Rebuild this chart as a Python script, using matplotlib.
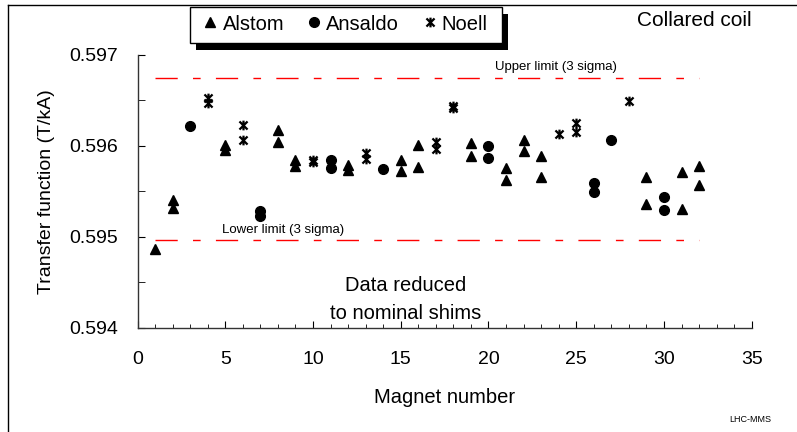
import matplotlib.pyplot as plt
from matplotlib.path import Path
from matplotlib.lines import Line2D
from matplotlib.patches import Rectangle
from matplotlib.ticker import MultipleLocator, FormatStrFormatter

plt.rcParams['font.family'] = ['Liberation Sans', 'DejaVu Sans']

# Alstom (triangles)
alstom_x = [1, 2, 2, 5, 5, 8, 8, 9, 9, 12, 12, 15, 15, 16, 16, 19, 19,
            21, 21, 22, 22, 23, 23, 29, 29, 31, 31, 32, 32]
alstom_y = [0.59487, 0.59540, 0.59532, 0.59601, 0.59595, 0.59617, 0.59604,
            0.59584, 0.59578, 0.59579, 0.59574, 0.59584, 0.59572, 0.59601,
            0.59577, 0.59603, 0.59589, 0.59576, 0.59562, 0.59607, 0.59594,
            0.59589, 0.59566, 0.59566, 0.59536, 0.59571, 0.59531, 0.59578,
            0.59557]

# Ansaldo (circles)
ansaldo_x = [3, 7, 7, 11, 11, 14, 20, 20, 26, 26, 27, 30, 30]
ansaldo_y = [0.59622, 0.59528, 0.59523, 0.59584, 0.59576, 0.59575, 0.59600,
             0.59587, 0.59559, 0.59549, 0.59606, 0.59544, 0.59529]

# Noell (stars)
noell_x = [4, 4, 6, 6, 10, 10, 13, 13, 17, 17, 18, 18, 24, 25, 25, 28]
noell_y = [0.59653, 0.59647, 0.59623, 0.59606, 0.59584, 0.59582, 0.59592,
           0.59586, 0.59604, 0.59597, 0.59644, 0.59642, 0.59613, 0.59625,
           0.59615, 0.59649]

upper_limit = 0.59675
lower_limit = 0.59496
limit_x = [1, 32]

# Excel-like star marker: X plus vertical bar
star = Path([(-1, -1), (1, 1), (-1, 1), (1, -1), (0, -1.2), (0, 1.2)],
            [Path.MOVETO, Path.LINETO, Path.MOVETO, Path.LINETO,
             Path.MOVETO, Path.LINETO])

fig = plt.figure(figsize=(7.97, 4.32), dpi=100)
ax = fig.add_axes([137.5 / 797, 1 - 327.7 / 432, 614.2 / 797, 272.7 / 432])

ax.plot(limit_x, [upper_limit] * 2, color='red', lw=1, dashes=(16, 11, 5.5, 11))
ax.plot(limit_x, [lower_limit] * 2, color='red', lw=1, dashes=(16, 11, 5.5, 11))

ax.plot(alstom_x, alstom_y, ls='none', marker='^', ms=7.5, color='black',
        label='Alstom')
ax.plot(ansaldo_x, ansaldo_y, ls='none', marker='o', ms=7, color='black',
        label='Ansaldo')
ax.plot(noell_x, noell_y, ls='none', marker=star, ms=7, mec='black',
        mfc='none', mew=1.6, label='Noell')

ax.set_xlim(0, 35)
ax.set_ylim(0.594, 0.597)
for s in ['top', 'right']:
    ax.spines[s].set_visible(False)
for s in ['left', 'bottom']:
    ax.spines[s].set_color('#333333')
    ax.spines[s].set_linewidth(1)

ax.xaxis.set_major_locator(MultipleLocator(5))
ax.xaxis.set_minor_locator(MultipleLocator(1))
ax.yaxis.set_major_locator(MultipleLocator(0.001))
ax.yaxis.set_minor_locator(MultipleLocator(0.0005))
ax.yaxis.set_major_formatter(FormatStrFormatter('%.3f'))
ax.tick_params(axis='x', which='major', direction='in', length=5, pad=17,
               labelsize=14)
ax.tick_params(axis='x', which='minor', direction='in', length=3)
ax.tick_params(axis='y', which='both', direction='in', length=5, pad=14,
               labelsize=14)

ax.set_xlabel('Magnet number', fontsize=14.5, labelpad=14)
ax.set_ylabel('Transfer function (T/kA)', fontsize=14, labelpad=10)

ax.text(20.4, 0.59687, 'Upper limit (3 sigma)', fontsize=9.5, ha='left',
        va='center')
ax.text(4.8, 0.59508, 'Lower limit (3 sigma)', fontsize=9.5, ha='left',
        va='center')
ax.text(15.3, 0.59431, 'Data reduced\nto nominal shims', fontsize=14.5,
        ha='center', va='center', linespacing=1.65)

fig.text(694 / 797, 1 - 21 / 432, 'Collared coil', fontsize=15, ha='center',
         va='center')
fig.text(750 / 797, 1 - 420 / 432, 'LHC-MMS', fontsize=6.5, ha='center',
         va='center')

# legend box with solid shadow
fig.add_artist(Rectangle((196 / 797, 1 - 50 / 432), 312 / 797, 36 / 432,
                         transform=fig.transFigure, facecolor='black',
                         edgecolor='none'))
fig.add_artist(Rectangle((190 / 797, 1 - 43 / 432), 312 / 797, 36 / 432,
                         transform=fig.transFigure, facecolor='white',
                         edgecolor='black', lw=1))
fig.legend(loc='center', bbox_to_anchor=(346 / 797, 1 - 24 / 432), ncol=3,
           frameon=False, fontsize=14.5, handlelength=0.6, handletextpad=0.3,
           columnspacing=1.2, borderpad=0)

# figure frame
fig.add_artist(Line2D([8 / 797, 8 / 797], [0, 1 - 5 / 432],
                      transform=fig.transFigure, color='black', lw=1))
fig.add_artist(Line2D([8 / 797, 1], [1 - 5 / 432, 1 - 5 / 432],
                      transform=fig.transFigure, color='black', lw=1))

fig.savefig('out.png', dpi=100)
